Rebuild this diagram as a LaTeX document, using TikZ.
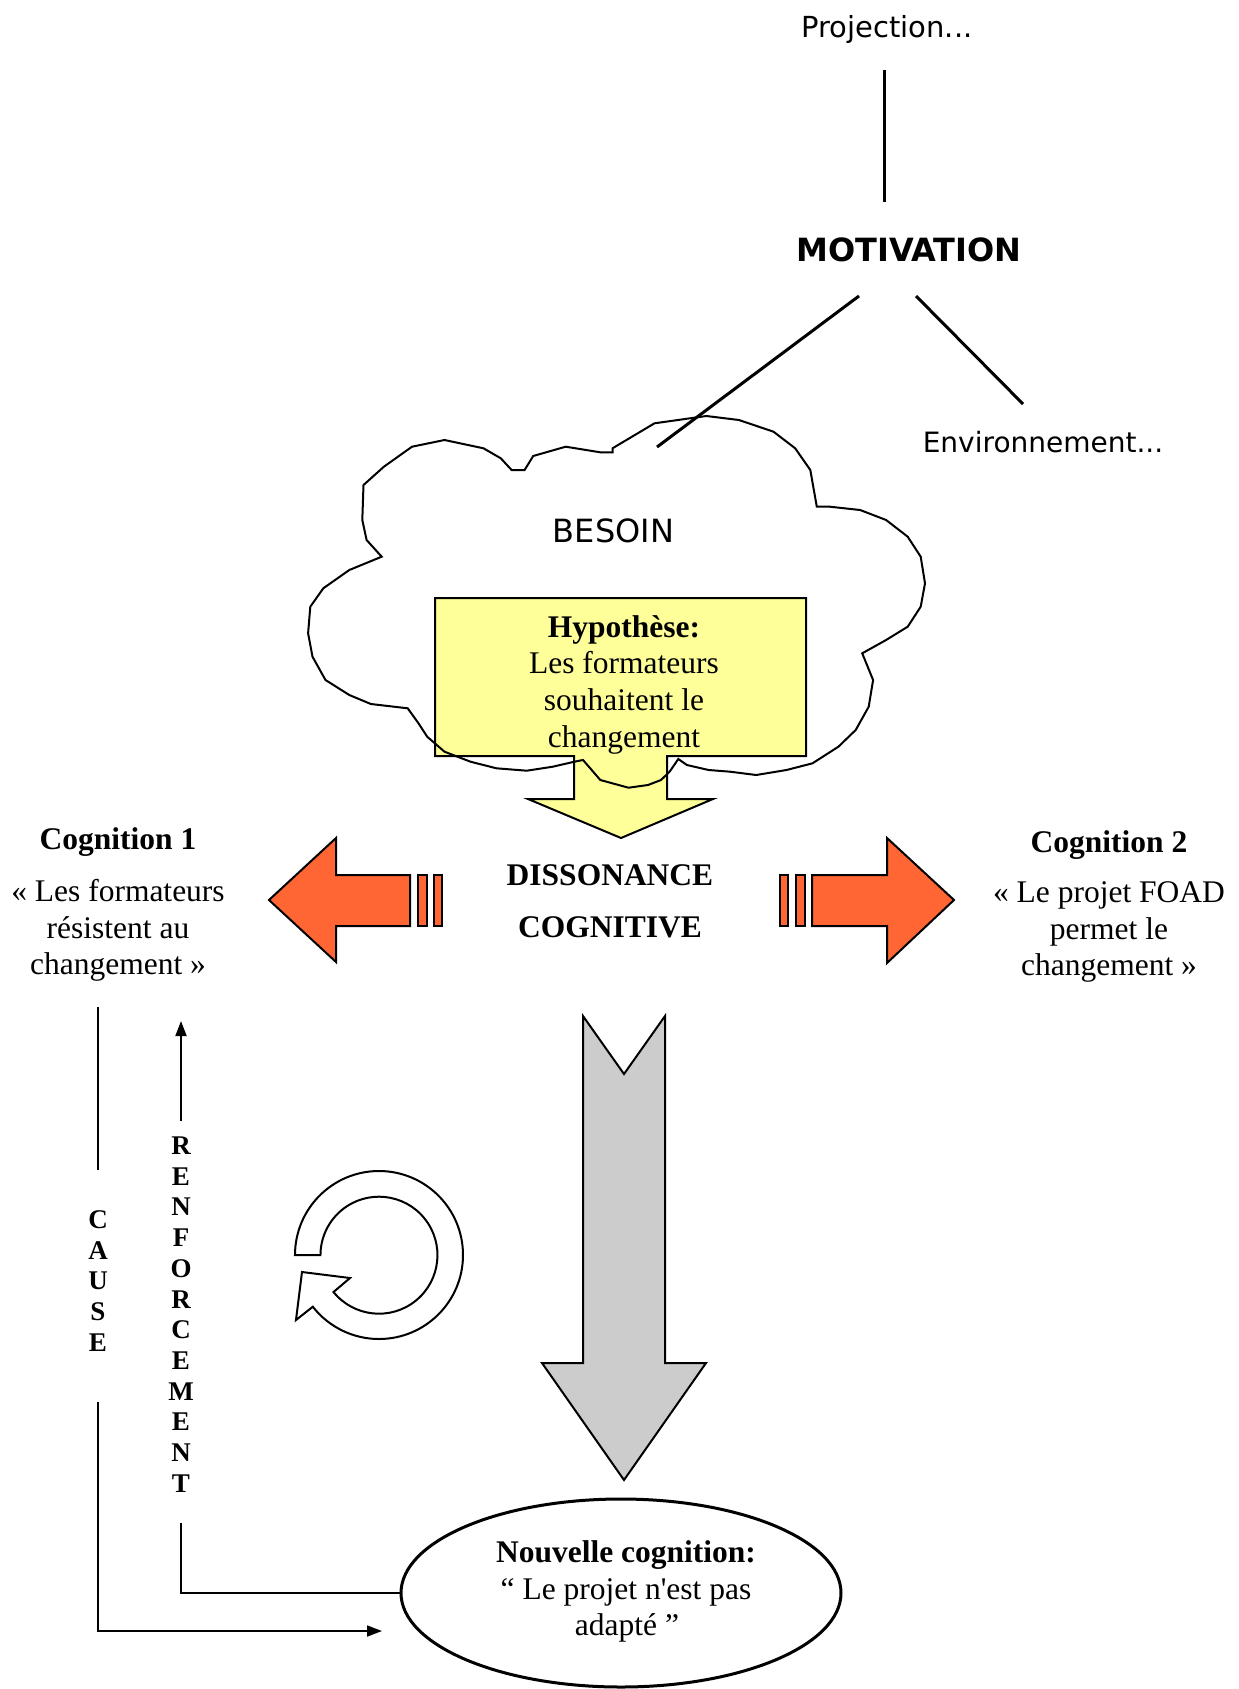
\documentclass[tikz,border=0pt]{standalone}
\usepackage{fontspec}
\setmainfont{Liberation Serif}
\newfontfamily\comicf{DejaVu Sans}
\usetikzlibrary{shapes.geometric,arrows.meta}
\definecolor{hypyellow}{HTML}{FFFF99}
\definecolor{orangearr}{HTML}{FF6633}
\definecolor{grayarr}{HTML}{CCCCCC}
\begin{document}
\begin{tikzpicture}[x=1pt,y=-1pt,
  txt/.style={inner sep=0pt, anchor=base, font=\fontsize{31.5}{36.7}\selectfont},
  txtb/.style={inner sep=0pt, anchor=base, font=\fontsize{31.5}{36.7}\selectfont\bfseries},
  comic/.style={inner sep=0pt, anchor=base, font=\comicf\fontsize{#1}{#1}\selectfont},
  vlet/.style={inner sep=0pt, align=center, font=\bfseries\fontsize{27}{30.7}\selectfont},
  conn/.style={line width=1.8pt},
  bigline/.style={line width=3pt},
  shapeline/.style={line width=2pt, line join=miter},
  arr/.style={-{Triangle[length=15pt,width=11pt]}},
]
\useasboundingbox (0,0) rectangle (1239,1689);
\fill[white] (0,0) rectangle (1239,1689);

% ---- top: motivation tree
\node[comic=29] (proj) at (887,37) {Projection...};
\node[inner sep=0pt, anchor=base, font=\comicf\bfseries\fontsize{32}{32}\selectfont] (motiv) at (909,261) {MOTIVATION};
\node[comic=28] (env) at (1043,452) {Environnement...};
\coordinate (pm1) at (884,70);  \coordinate (pm2) at (884,202);
\coordinate (ml1) at (859,296); \coordinate (ml2) at (657,447);
\coordinate (mr1) at (916,296); \coordinate (mr2) at (1023,404);
\draw[bigline] (pm1) -- (pm2);
\draw[bigline] (ml1) -- (ml2);
\draw[bigline] (mr1) -- (mr2);

% ---- hypothesis callout
\draw[shapeline, fill=hypyellow] (435,598) -- (806,598) -- (806,756) -- (667,756) -- (667,799) -- (713,799) -- (621,838) -- (528,799) -- (574,799) -- (574,756) -- (435,756) -- cycle;

% ---- cloud
\draw[shapeline] (444.5,440) -- (483.5,448.3) -- (500.8,458.3) -- (511.6,470) -- (524.6,470) -- (533.2,456) -- (565.7,446.7) -- (600.3,452.3) -- (612.5,452.3) -- (612.5,448.3) -- (654.5,423.3) -- (706.4,416) -- (738.9,420) -- (773.5,431.7) -- (795.2,448.3) -- (810.3,470) -- (816.8,506.7) -- (829.8,506.7) -- (860.1,510) -- (886.1,520) -- (907.7,536.7) -- (920.7,556.7) -- (925,583.3) -- (920.7,606.7) -- (907.7,626.7) -- (886.1,640) -- (862.2,653.3) -- (873.1,680) -- (868.7,706.7) -- (855.7,730) -- (838.4,746.7) -- (812.5,763.3) -- (786.5,770) -- (756.2,775) -- (730.2,771.7) -- (708.6,770) -- (686.9,765) -- (678.3,759) -- (669.6,771.7) -- (661,780) -- (648,785) -- (628.5,787.7) -- (600.3,780) -- (591.7,770) -- (583,760) -- (574.4,761.7) -- (552.7,766.7) -- (526.8,770.7) -- (496.5,768.3) -- (470.5,761.7) -- (444.5,751.7) -- (427.2,736.7) -- (418.5,723.3) -- (407.7,708.3) -- (370.9,704) -- (349.3,695) -- (325.5,680) -- (312.5,656.7) -- (308.1,633.3) -- (310.3,606.7) -- (323.3,588.3) -- (349.3,570) -- (381.7,556.7) -- (366.6,540) -- (362.3,520) -- (363.5,485) -- (383.9,466.7) -- (412,446.7) -- cycle;
\node[comic=32] (besoin) at (613.5,542) {BESOIN};

\node[txtb] (h0) at (624,637) {Hypothèse:};
\node[txt] (h1) at (624,673) {Les formateurs};
\node[txt] (h2) at (624,710) {souhaitent le};
\node[txt] (h3) at (624,747) {changement};

% ---- dissonance
\node[txtb] (dis1) at (610,885.5) {DISSONANCE};
\node[txtb] (dis2) at (610,937) {COGNITIVE};

% ---- orange arrows
\draw[shapeline, fill=orangearr] (269,900) -- (336,838) -- (336,875) -- (410,875) -- (410,926) -- (336,926) -- (336,962) -- cycle;
\draw[shapeline, fill=orangearr] (418,875) rectangle (427,926);
\draw[shapeline, fill=orangearr] (434,875) rectangle (442,926);
\draw[shapeline, fill=orangearr] (780,875) rectangle (788,926);
\draw[shapeline, fill=orangearr] (796,875) rectangle (805,926);
\draw[shapeline, fill=orangearr] (812,875) -- (887,875) -- (887,838) -- (954,900) -- (887,963) -- (887,926) -- (812,926) -- cycle;

% ---- cognitions
\node[txtb] (c1) at (118,849) {Cognition 1};
\node[txt] (c1a) at (118,901) {« Les formateurs};
\node[txt] (c1b) at (118,938) {résistent au};
\node[txt] (c1c) at (118,974) {changement »};

\node[txtb] (c2) at (1109,852) {Cognition 2};
\node[txt] (c2a) at (1109,902) {« Le projet FOAD};
\node[txt] (c2b) at (1109,939) {permet le};
\node[txt] (c2c) at (1109,975) {changement »};

% ---- grey arrow
\draw[shapeline, fill=grayarr] (583,1016) -- (624,1074) -- (665,1016) -- (665,1363) -- (706,1363) -- (624,1480) -- (542,1363) -- (583,1363) -- cycle;

% ---- circular arrow
\draw[shapeline, fill=white] (295,1255) arc[start angle=180, end angle=502, radius=84] -- (296,1320) -- (302,1272) -- (350,1278) -- (333.5,1292) arc[start angle=501, end angle=180, radius=58.5] -- cycle;

% ---- new cognition
\node[ellipse, draw, line width=3pt, minimum width=440pt, minimum height=188pt, inner sep=0pt] (nc) at (621,1593) {};
\node[txtb] (nc1) at (626,1562) {Nouvelle cognition:};
\node[txt] (nc2) at (626,1599) {“ Le projet n\textquotesingle est pas};
\node[txt] (nc3) at (627,1635) {adapté ”};

% ---- cause / renforcement
\node[vlet] (cause) at (98,1281) {C\\A\\U\\S\\E};
\node[vlet] (renf) at (181,1314.5) {R\\E\\N\\F\\O\\R\\C\\E\\M\\E\\N\\T};
\coordinate (causeEnd) at (382,1631);
\draw[conn, shorten <=26pt, shorten >=40pt] (c1c.south -| cause.north) -- (cause.north);
\draw[conn, arr, shorten <=50pt] (cause.south) |- (causeEnd);
\draw[conn, arr, shorten <=16pt, shorten >=40pt] (renf.north) -- (renf.north |- c1c.south);
\draw[conn, shorten >=31pt] (nc.west) -| (renf.south);
\end{tikzpicture}
\end{document}
